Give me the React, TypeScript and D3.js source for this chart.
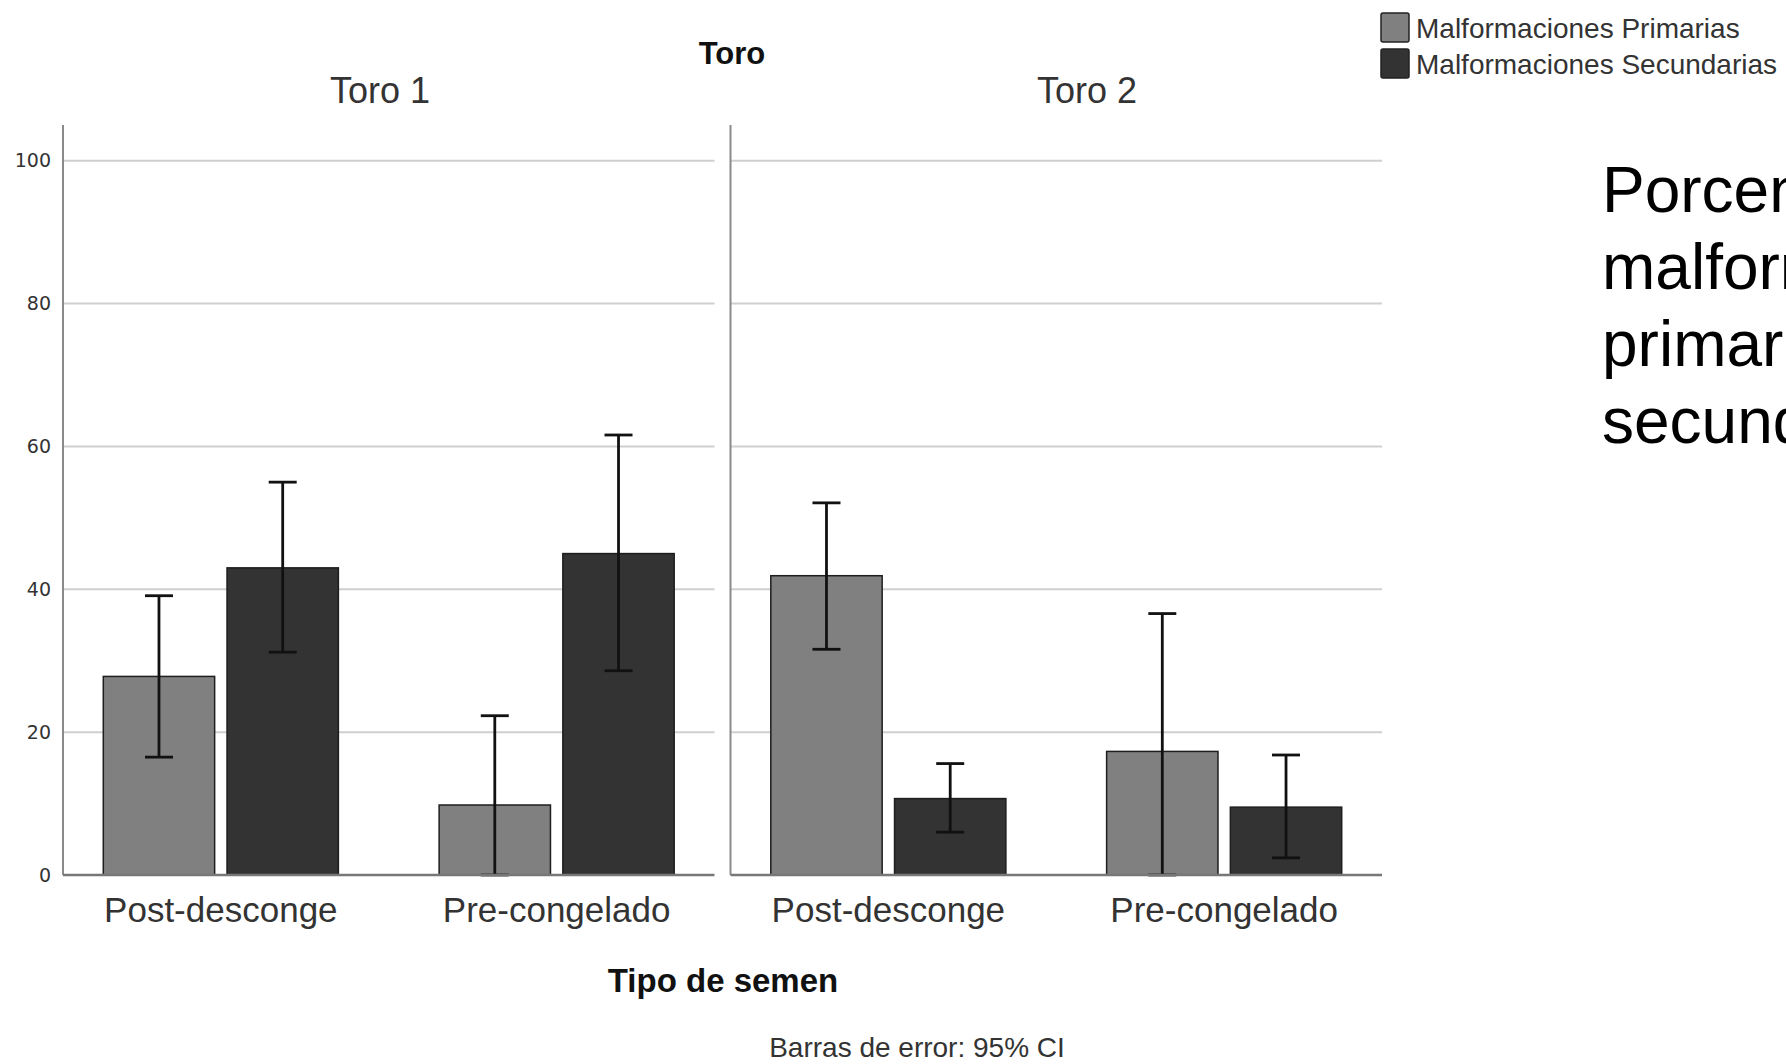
import React from 'react';
import * as d3 from 'd3';

const toros = ['Toro 1', 'Toro 2'];
const categories = ['Post-desconge', 'Pre-congelado'];
const series = ['Malformaciones Primarias', 'Malformaciones Secundarias'];
const seriesColors = ['#808080', '#333333'];

// order: [toro][categoria]
const primariasMean = [[27.8, 9.8], [41.9, 17.3]];
const primariasLow = [[16.5, 0], [31.6, 0]];
const primariasHigh = [[39.1, 22.3], [52.1, 36.6]];

const secundariasMean = [[43.0, 45.0], [10.7, 9.5]];
const secundariasLow = [[31.2, 28.6], [6.0, 2.4]];
const secundariasHigh = [[55.0, 61.6], [15.6, 16.8]];

const yTicks = [0, 20, 40, 60, 80, 100];
const sideText = ['Porcentaje de', 'malformaciones', 'primarias y', 'secundarias'];

const W = 1786;
const H = 1064;
const FONT = '"Liberation Sans", Arial, sans-serif';

const App = () => {
  const y = d3.scaleLinear().domain([0, 105]).range([875, 125]);
  const panel = d3.scaleBand().domain(toros).range([63, 1382]).paddingInner(0.024);
  const x0 = d3.scaleBand().domain(categories).range([0, panel.bandwidth()])
    .paddingInner(0.3).paddingOuter(0.12);
  const x1 = d3.scaleBand().domain(series).range([0, x0.bandwidth()]).paddingInner(0.1);

  const means = [primariasMean, secundariasMean];
  const lows = [primariasLow, secundariasLow];
  const highs = [primariasHigh, secundariasHigh];

  const toroLabelX = [380, 1087];
  const capW = 28;

  return (
    <svg width={W} height={H} style={{ position: 'absolute', left: 0, top: 0, background: '#fff' }}
      fontFamily={FONT}>
      <rect width={W} height={H} fill="#fff" />

      {/* y tick labels */}
      {yTicks.map(t => (
        <text key={t} x={51} y={y(t)} dy="0.35em" textAnchor="end"
          fontFamily='"DejaVu Sans", sans-serif' fontSize={19} fill="#333">{t}</text>
      ))}

      <text x={732} y={64} textAnchor="middle" fontWeight="bold" fontSize={31} fill="#111">Toro</text>

      {toros.map((toro, ti) => {
        const px = panel(toro)!;
        const pw = panel.bandwidth();
        return (
          <g key={toro}>
            <text x={toroLabelX[ti]} y={103} textAnchor="middle" fontSize={36} fill="#333">{toro}</text>
            {yTicks.filter(t => t > 0).map(t => (
              <line key={t} x1={px} x2={px + pw} y1={y(t)} y2={y(t)} stroke="#cfcfcf" strokeWidth={2} />
            ))}
            <line x1={px} x2={px} y1={y(105)} y2={y(0)} stroke="#8a8a8a" strokeWidth={2} />
            {categories.map((cat, ci) => {
              const cx = px + x0(cat)!;
              return (
                <g key={cat}>
                  {series.map((s, si) => {
                    const bx = cx + x1(s)!;
                    const bw = x1.bandwidth();
                    const m = means[si][ti][ci];
                    return (
                      <rect key={s} x={bx} y={y(m)} width={bw} height={y(0) - y(m)}
                        fill={seriesColors[si]} stroke="#1e1e1e" strokeWidth={1.5} />
                    );
                  })}
                  {series.map((s, si) => {
                    const mx = cx + x1(s)! + x1.bandwidth() / 2;
                    const lo = lows[si][ti][ci];
                    const hi = highs[si][ti][ci];
                    return (
                      <g key={s} stroke="#111" strokeWidth={2.8}>
                        <line x1={mx} x2={mx} y1={y(hi)} y2={y(lo)} />
                        <line x1={mx - capW / 2} x2={mx + capW / 2} y1={y(hi)} y2={y(hi)} />
                        <line x1={mx - capW / 2} x2={mx + capW / 2} y1={y(lo)} y2={y(lo)} />
                      </g>
                    );
                  })}
                  <text x={cx + x0.bandwidth() / 2} y={922} textAnchor="middle" fontSize={35} fill="#333">{cat}</text>
                </g>
              );
            })}
            <line x1={px} x2={px + pw} y1={y(0)} y2={y(0)} stroke="#777" strokeWidth={2.5} />
          </g>
        );
      })}

      <text x={723} y={992} textAnchor="middle" fontWeight="bold" fontSize={33} fill="#111">Tipo de semen</text>
      <text x={917} y={1057} textAnchor="middle" fontSize={28} fill="#333">Barras de error: 95% CI</text>

      {/* legend */}
      {series.map((s, i) => (
        <g key={s} transform={`translate(1381, ${13 + i * 36})`}>
          <rect x={0} y={0} width={28} height={29} rx={2} fill={seriesColors[i]} stroke="#222" strokeWidth={1.5} />
          <text x={35} y={25} fontSize={28} fill="#333">{s}</text>
        </g>
      ))}

      {sideText.map((line, i) => (
        <text key={i} x={1602} y={212 + i * 77} fontSize={64} fill="#000">{line}</text>
      ))}
    </svg>
  );
};

export default App;
